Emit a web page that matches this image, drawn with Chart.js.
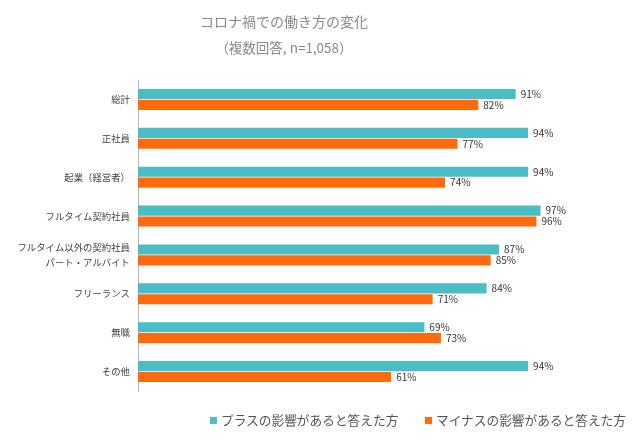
<!DOCTYPE html>
<html lang="ja">
<head>
<meta charset="utf-8">
<script src="https://cdn.jsdelivr.net/npm/chart.js@4/dist/chart.umd.min.js"></script>
<style>
  html, body { margin: 0; padding: 0; background: #fff; }
  body { width: 640px; height: 441px; position: relative; overflow: hidden;
         font-family: "Noto Sans CJK JP", "Noto Sans", sans-serif; }
  #wrap { position: absolute; left: 0; top: 0; width: 640px; height: 441px; }
  .title { position: absolute; left: 0; width: 568px; text-align: center; color: #8a8a8a; white-space: nowrap; }
  .t1 { top: 11px; font-size: 14px; }
  .t2 { top: 37px; font-size: 13.5px; }
  .legend { position: absolute; top: 410px; font-size: 12.7px; color: #555; white-space: nowrap; }
  .legend i { display: inline-block; width: 7px; height: 7px; margin-right: 4px; vertical-align: 1px; }
</style>
</head>
<body>
<div id="wrap"><canvas id="chart" width="640" height="441"></canvas></div>
<div class="title t1">コロナ禍での働き方の変化</div>
<div class="title t2">（複数回答, n=1,058）</div>
<div class="legend" style="left:210px"><i style="background:#4abdc6"></i>プラスの影響があると答えた方</div>
<div class="legend" style="left:425px"><i style="background:#ff6a0d"></i>マイナスの影響があると答えた方</div>
<script>
// chart data (percent)
const categories = [
  "総計",
  "正社員",
  "起業（経営者）",
  "フルタイム契約社員",
  ["フルタイム以外の契約社員", "パート・アルバイト"],
  "フリーランス",
  "無職",
  "その他",
];
const plusValues = [91, 94, 94, 97, 87, 84, 69, 94];
const minusValues = [82, 77, 74, 96, 85, 71, 73, 61];
const seriesNames = ["プラスの影響があると答えた方", "マイナスの影響があると答えた方"];

const TEAL = "#4abdc6";
const ORANGE = "#ff6a0d";

// draws "91%" etc. to the right of each bar
const valueLabels = {
  id: "valueLabels",
  afterDatasetsDraw(chart) {
    const { ctx } = chart;
    ctx.save();
    ctx.font = '10px "Noto Sans CJK JP", sans-serif';
    ctx.fillStyle = "#333";
    ctx.textAlign = "left";
    ctx.textBaseline = "middle";
    chart.data.datasets.forEach((ds, i) => {
      chart.getDatasetMeta(i).data.forEach((bar, j) => {
        ctx.fillText(ds.data[j] + "%", bar.x + 5, bar.y);
      });
    });
    ctx.restore();
  },
};

new Chart(document.getElementById("chart"), {
  type: "bar",
  data: {
    labels: categories,
    datasets: [
      { label: seriesNames[0], data: plusValues, backgroundColor: TEAL },
      { label: seriesNames[1], data: minusValues, backgroundColor: ORANGE },
    ],
  },
  options: {
    indexAxis: "y",
    responsive: false,
    animation: false,
    categoryPercentage: 0.56,
    barPercentage: 0.92,
    layout: { padding: { top: 80, bottom: 50, left: 10, right: 87 } },
    plugins: {
      legend: { display: false },
      title: { display: false },
      tooltip: { enabled: false },
    },
    scales: {
      x: { display: false, min: 0, max: 100 },
      y: {
        grid: { display: false, drawTicks: false },
        border: { display: true, color: "#b5b5b5", width: 1 },
        ticks: {
          padding: 8,
          color: "#444",
          font: { family: '"Noto Sans CJK JP", sans-serif', size: 9.4, lineHeight: 1.6 },
        },
        afterFit(scale) { scale.width = 128; },
      },
    },
  },
  plugins: [valueLabels],
});
</script>
</body>
</html>
